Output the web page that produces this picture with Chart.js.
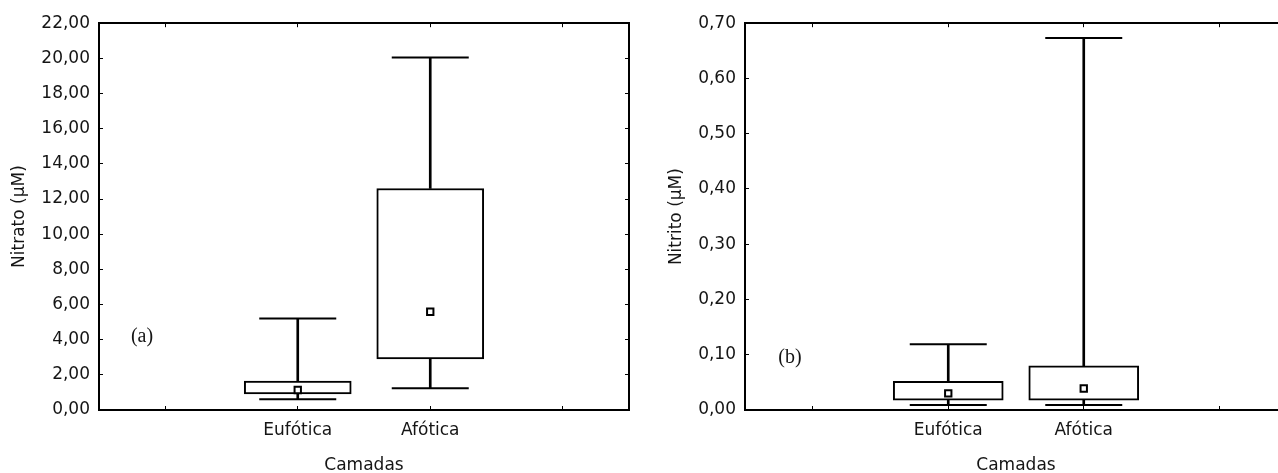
<!DOCTYPE html>
<html>
<head>
<meta charset="utf-8">
<script src="https://cdn.jsdelivr.net/npm/chart.js@4/dist/chart.umd.min.js"></script>
<style>
  html, body { margin: 0; padding: 0; background: #fff; overflow: hidden; width: 1278px; height: 473px; }
  .panel { position: absolute; top: 0; }
</style>
</head>
<body>
<div class="panel" style="left:0;width:640px;height:473px"><canvas id="chartA" width="640" height="473"></canvas></div>
<div class="panel" style="left:640px;width:655px;height:473px"><canvas id="chartB" width="655" height="473"></canvas></div>
<script>
// ===== データ =====
const categories = ['', 'Eufótica', 'Afótica', ''];

// (a) Nitrato
const nitratoMin = [null, 0.61, 1.23, null];
const nitratoQ1  = [null, 0.91, 2.90, null];
const nitratoMed = [null, 1.14, 5.59, null];
const nitratoQ3  = [null, 1.65, 12.60, null];
const nitratoMax = [null, 5.21, 20.05, null];
const nitratoTicks = [0, 2, 4, 6, 8, 10, 12, 14, 16, 18, 20, 22];

// (b) Nitrito
const nitritoMin = [null, 0.009, 0.009, null];
const nitritoQ1  = [null, 0.018, 0.018, null];
const nitritoMed = [null, 0.030, 0.039, null];
const nitritoQ3  = [null, 0.052, 0.080, null];
const nitritoMax = [null, 0.119, 0.673, null];
const nitritoTicks = [0, 0.1, 0.2, 0.3, 0.4, 0.5, 0.6, 0.7];

// ===== 共通 =====
const FONT = { family: '"DejaVu Sans"', size: 17 };
const INK  = '#151515';

function fmtTick(v) {
  return Number(v).toFixed(2).replace('.', ',');
}

function boxDatasets(mins, q1s, meds, q3s, maxs, boxW, capR) {
  const box = q1s.map((v, i) => v == null ? null : [v, q3s[i]]);
  const hi  = maxs.map((v, i) => v == null ? null : [q3s[i], v]);
  const lo  = mins.map((v, i) => v == null ? null : [v, q1s[i]]);
  const whisker = d => ({
    type: 'bar', data: d, backgroundColor: '#000', borderWidth: 0,
    barThickness: 2, grouped: false, order: 3,
  });
  const cap = d => ({
    type: 'line', data: d, showLine: false, pointStyle: 'line',
    pointRadius: capR, pointBorderColor: '#000', pointBorderWidth: 2, order: 2,
  });
  return [
    whisker(hi),
    whisker(lo),
    cap(maxs),
    cap(mins),
    {
      type: 'bar', data: box, backgroundColor: '#fff', borderColor: '#000',
      borderWidth: 2, borderSkipped: false, barThickness: boxW, grouped: false, order: 1,
    },
    {
      type: 'line', data: meds, showLine: false, pointStyle: 'rect', pointRadius: 4.5,
      pointBackgroundColor: '#fff', pointBorderColor: '#000', pointBorderWidth: 2, order: 0,
    },
  ];
}

// パネルラベル (a)/(b)
const panelLabel = {
  id: 'panelLabel',
  afterDraw(chart, args, opts) {
    const { ctx, chartArea, scales } = chart;
    ctx.save();
    ctx.font = opts.font;
    ctx.fillStyle = INK;
    ctx.textAlign = 'center';
    ctx.textBaseline = 'middle';
    ctx.fillText(opts.text, chartArea.left + opts.dx, scales.y.getPixelForValue(opts.value));
    ctx.restore();
  },
};

function makeChart(id, cfg) {
  const tickGrid = { drawOnChartArea: false, drawTicks: true, tickLength: -4, color: '#000', lineWidth: 1, offset: false };
  const border = { display: true, color: '#000', width: 2 };
  const useTicks = scale => { scale.ticks = cfg.ticks.map(v => ({ value: v })); };

  return new Chart(document.getElementById(id), {
    type: 'bar',
    data: {
      labels: categories,
      datasets: boxDatasets(cfg.min, cfg.q1, cfg.med, cfg.q3, cfg.max, cfg.boxW, 38.5),
    },
    plugins: [panelLabel],
    options: {
      responsive: false,
      animation: false,
      events: [],
      // autoPadding を切らないと線マーカー半径分の余白が入る
      layout: { autoPadding: false, padding: { top: 23, right: cfg.padRight, bottom: 0, left: 0 } },
      plugins: {
        legend: { display: false },
        tooltip: { enabled: false },
        panelLabel: cfg.label,
      },
      scales: {
        x: {
          type: 'category', position: 'bottom', offset: true,
          grid: tickGrid, border,
          ticks: { font: FONT, color: INK, padding: 14, maxRotation: 0, autoSkip: false },
          title: { display: true, text: 'Camadas', font: FONT, color: INK, padding: { top: 0, bottom: -3 } },
          afterFit: s => { s.height = 63; },
        },
        xTop: {
          type: 'category', position: 'top', offset: true,
          grid: tickGrid, border,
          ticks: { display: false },
          afterFit: s => { s.height = 0; },
        },
        y: {
          type: 'linear', position: 'left',
          min: cfg.ticks[0], max: cfg.ticks[cfg.ticks.length - 1],
          afterBuildTicks: useTicks,
          grid: tickGrid, border,
          ticks: { font: FONT, color: INK, padding: 13, callback: fmtTick },
          title: { display: true, text: cfg.yTitle, font: FONT, color: INK, padding: { top: cfg.titlePad, bottom: 0 } },
          afterFit: s => { s.width = cfg.yWidth; },
        },
        yRight: {
          type: 'linear', position: 'right',
          min: cfg.ticks[0], max: cfg.ticks[cfg.ticks.length - 1],
          afterBuildTicks: useTicks,
          grid: tickGrid, border,
          ticks: { display: false },
          afterFit: s => { s.width = 0; },
        },
      },
    },
  });
}

// ===== 描画 =====
makeChart('chartA', {
  min: nitratoMin, q1: nitratoQ1, med: nitratoMed, q3: nitratoQ3, max: nitratoMax,
  ticks: nitratoTicks, yTitle: 'Nitrato (μM)',
  yWidth: 99, padRight: 11, titlePad: 9, boxW: 107,
  label: { text: '(a)', dx: 43, value: 4.15, font: '20px "Liberation Serif"' },
});

makeChart('chartB', {
  min: nitritoMin, q1: nitritoQ1, med: nitritoMed, q3: nitritoQ3, max: nitritoMax,
  ticks: nitritoTicks, yTitle: 'Nitrito (μM)',
  yWidth: 105, padRight: 8, titlePad: 26, boxW: 110,
  label: { text: '(b)', dx: 45, value: 0.094, font: '20px "Liberation Serif"' },
});
</script>
</body>
</html>
